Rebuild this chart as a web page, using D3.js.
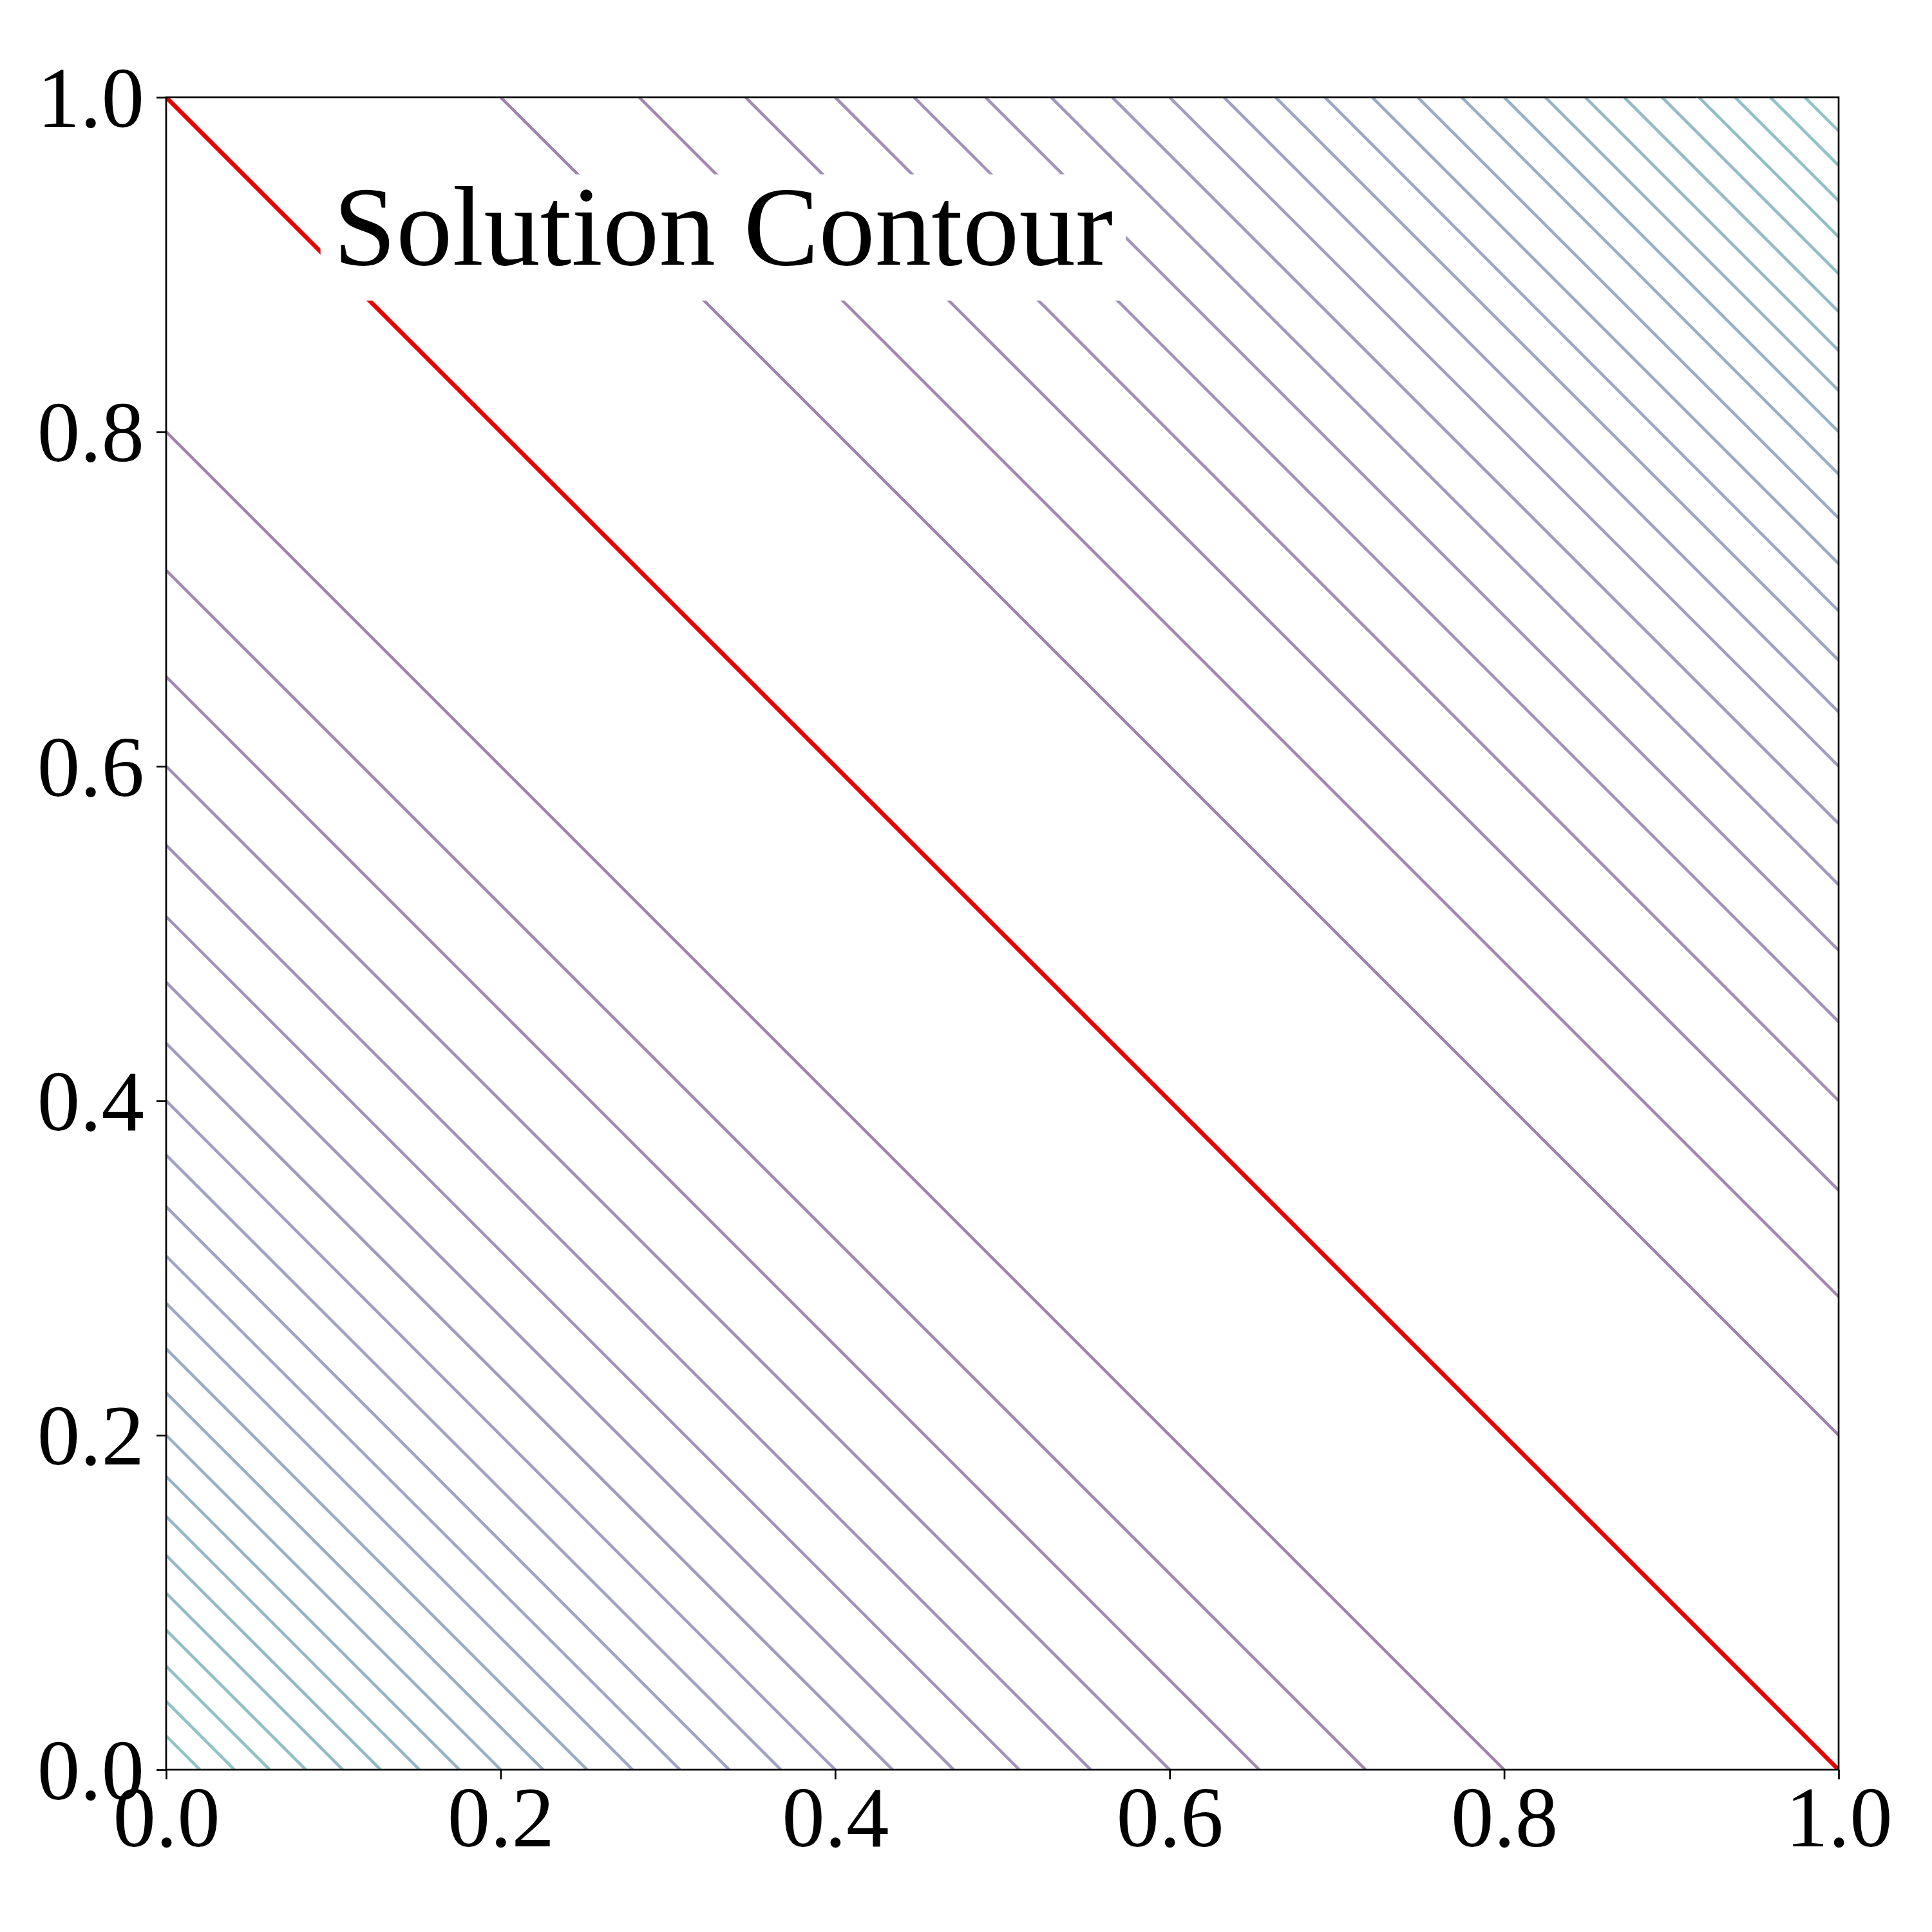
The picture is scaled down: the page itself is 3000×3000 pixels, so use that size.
<!DOCTYPE html>
<html>
<head>
<meta charset="utf-8">
<script src="https://cdn.jsdelivr.net/npm/d3@7"></script>
<style>
  body { margin: 0; background: #fff; }
  text { font-family: "Liberation Serif", "Times New Roman", serif; }
</style>
</head>
<body>
<svg id="chart"></svg>
<script>
// contour levels of (x + y - 1)^2 (step 0.04)
const levels = [0.04, 0.08, 0.12, 0.16, 0.20, 0.24, 0.28, 0.32, 0.36, 0.40, 0.44, 0.48,
                0.52, 0.56, 0.60, 0.64, 0.68, 0.72, 0.76, 0.80, 0.84, 0.88, 0.92, 0.96];
const levelMax = 2.0;          // colour range of the contour set
const solutionLevel = 0;       // red solution contour
const xTicks = [0, 0.2, 0.4, 0.6, 0.8, 1.0];
const yTicks = [0, 0.2, 0.4, 0.6, 0.8, 1.0];
const titleText = "Solution Contour";
const titlePos = [0.1, 0.9];

const margin = { top: 151, left: 258 },
      width = 2597,
      height = 2597;

const svg = d3.select("#chart")
  .attr("width", 3000)
  .attr("height", 3000);

svg.append("rect").attr("width", 3000).attr("height", 3000).attr("fill", "#fff");

const g = svg.append("g")
  .attr("transform", `translate(${margin.left},${margin.top})`);

const x = d3.scaleLinear().domain([0, 1]).range([0, width]);
const y = d3.scaleLinear().domain([0, 1]).range([height, 0]);

g.append("clipPath").attr("id", "plotClip")
  .append("rect").attr("width", width).attr("height", height);

// each level gives two lines x + y = 1 -/+ sqrt(level)
function segment(s) {
  const x0 = Math.max(0, s - 1), x1 = Math.min(1, s);
  return [[x0, s - x0], [x1, s - x1]];
}

const lines = [];
levels.forEach(l => {
  const d = Math.sqrt(l);
  lines.push({ level: l, pts: segment(1 - d) });
  lines.push({ level: l, pts: segment(1 + d) });
});

const line = d3.line().x(p => x(p[0])).y(p => y(p[1]));
const color = d3.scaleSequential(d3.interpolateViridis).domain([0, levelMax]);

const plot = g.append("g").attr("clip-path", "url(#plotClip)");

plot.selectAll("path.contour")
  .data(lines)
  .enter()
  .append("path")
  .attr("class", "contour")
  .attr("d", d => line(d.pts))
  .attr("fill", "none")
  .attr("stroke", d => color(d.level))
  .attr("stroke-opacity", 0.5)
  .attr("stroke-width", 4.6);

plot.append("path")
  .attr("d", line(segment(1 + Math.sqrt(solutionLevel))))
  .attr("fill", "none")
  .attr("stroke", "#e60000")
  .attr("stroke-width", 6.8);

// axes
const xAxis = g.append("g")
  .attr("transform", `translate(0,${height})`)
  .call(d3.axisBottom(x).tickValues(xTicks).tickFormat(d3.format(".1f")).tickSize(15));
xAxis.select(".domain").remove();
xAxis.selectAll("line").attr("stroke", "#000").attr("stroke-width", 2.7);
xAxis.selectAll("text")
  .attr("y", 119)
  .attr("dy", 0)
  .style("font-size", "133px")
  .style("fill", "#000");

const yAxis = g.append("g")
  .call(d3.axisLeft(y).tickValues(yTicks).tickFormat(d3.format(".1f")).tickSize(15));
yAxis.select(".domain").remove();
yAxis.selectAll("line").attr("stroke", "#000").attr("stroke-width", 2.7);
yAxis.selectAll("text")
  .attr("x", -34)
  .attr("dy", "0.34em")
  .style("font-size", "133px")
  .style("fill", "#000");

g.append("rect")
  .attr("width", width)
  .attr("height", height)
  .attr("fill", "none")
  .attr("stroke", "#000")
  .attr("stroke-width", 2.7);

// title with white box
const titleSize = 175;
const tg = g.append("g");
const tbox = tg.append("rect").attr("fill", "#fff");
const title = tg.append("text")
  .attr("x", x(titlePos[0]))
  .attr("y", y(titlePos[1]))
  .style("font-size", titleSize + "px")
  .style("fill", "#000")
  .text(titleText);

const tw = title.node().getComputedTextLength();
tbox
  .attr("x", x(titlePos[0]) - 20)
  .attr("y", y(titlePos[1]) - 0.8 * titleSize)
  .attr("width", tw + 40)
  .attr("height", 1.12 * titleSize);
</script>
</body>
</html>
